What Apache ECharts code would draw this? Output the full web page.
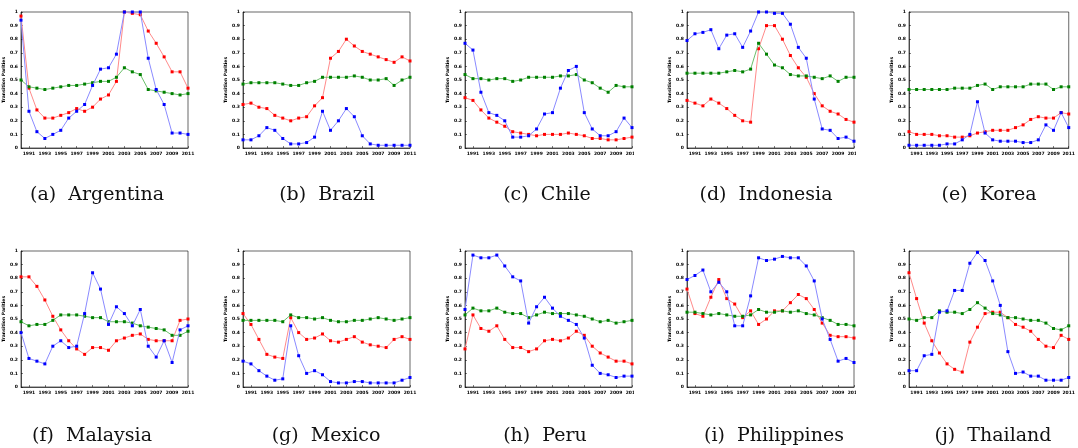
<!DOCTYPE html>
<html><head><meta charset="utf-8">
<script src="https://cdn.jsdelivr.net/npm/echarts@6/dist/echarts.min.js"></script>
<style>html,body{margin:0;padding:0;background:#fff}#c{width:1078px;height:448px}</style>
</head><body><div id="c"></div>
<script>
const years = ['1990','1991','1992','1993','1994','1995','1996','1997','1998','1999','2000','2001','2002','2003','2004','2005','2006','2007','2008','2009','2010','2011'];
const yAxisTitle = 'Transition Parities';
const captions = ['(a)  Argentina','(b)  Brazil','(c)  Chile','(d)  Indonesia','(e)  Korea','(f)  Malaysia','(g)  Mexico','(h)  Peru','(i)  Philippines','(j)  Thailand'];

const argentinaRed   = [0.97,0.44,0.28,0.22,0.22,0.24,0.26,0.29,0.27,0.30,0.36,0.39,0.49,1.00,0.99,0.98,0.86,0.77,0.67,0.56,0.56,0.44];
const argentinaGreen = [0.50,0.45,0.44,0.43,0.44,0.45,0.46,0.46,0.47,0.48,0.49,0.49,0.52,0.59,0.56,0.54,0.43,0.42,0.41,0.40,0.39,0.40];
const argentinaBlue  = [0.94,0.27,0.12,0.07,0.10,0.13,0.22,0.27,0.32,0.46,0.58,0.59,0.69,1.00,1.00,1.00,0.66,0.43,0.32,0.11,0.11,0.10];

const brazilRed   = [0.32,0.33,0.30,0.29,0.24,0.22,0.20,0.22,0.23,0.31,0.37,0.66,0.71,0.80,0.75,0.71,0.69,0.67,0.65,0.63,0.67,0.64];
const brazilGreen = [0.47,0.48,0.48,0.48,0.48,0.47,0.46,0.46,0.48,0.49,0.52,0.52,0.52,0.52,0.53,0.52,0.50,0.50,0.51,0.46,0.50,0.52];
const brazilBlue  = [0.06,0.06,0.09,0.15,0.13,0.07,0.03,0.03,0.04,0.08,0.27,0.13,0.20,0.29,0.23,0.09,0.03,0.02,0.02,0.02,0.02,0.02];

const chileRed   = [0.37,0.35,0.28,0.22,0.19,0.16,0.12,0.11,0.10,0.09,0.10,0.10,0.10,0.11,0.10,0.09,0.07,0.07,0.06,0.06,0.07,0.08];
const chileGreen = [0.54,0.51,0.51,0.50,0.51,0.51,0.49,0.50,0.52,0.52,0.52,0.52,0.53,0.53,0.54,0.50,0.48,0.44,0.41,0.46,0.45,0.45];
const chileBlue  = [0.77,0.72,0.41,0.26,0.24,0.20,0.08,0.08,0.09,0.14,0.25,0.26,0.44,0.57,0.60,0.26,0.14,0.09,0.09,0.12,0.22,0.15];

const indonesiaRed   = [0.35,0.33,0.31,0.36,0.33,0.29,0.24,0.20,0.19,0.73,0.90,0.90,0.80,0.68,0.59,0.52,0.40,0.31,0.27,0.25,0.21,0.19];
const indonesiaGreen = [0.55,0.55,0.55,0.55,0.55,0.56,0.57,0.56,0.58,0.77,0.69,0.61,0.59,0.54,0.53,0.53,0.52,0.51,0.53,0.49,0.52,0.52];
const indonesiaBlue  = [0.79,0.84,0.85,0.87,0.73,0.83,0.84,0.74,0.86,1.00,1.00,0.99,0.99,0.91,0.74,0.66,0.36,0.14,0.13,0.07,0.08,0.05];

const koreaRed   = [0.12,0.10,0.10,0.10,0.09,0.09,0.08,0.08,0.09,0.11,0.12,0.13,0.13,0.13,0.15,0.17,0.21,0.23,0.22,0.22,0.26,0.25];
const koreaGreen = [0.43,0.43,0.43,0.43,0.43,0.43,0.44,0.44,0.44,0.46,0.47,0.43,0.45,0.45,0.45,0.45,0.47,0.47,0.47,0.43,0.45,0.45];
const koreaBlue  = [0.02,0.02,0.02,0.02,0.02,0.03,0.03,0.06,0.10,0.34,0.11,0.06,0.05,0.05,0.05,0.04,0.04,0.06,0.17,0.13,0.26,0.15];

const malaysiaRed   = [0.81,0.81,0.74,0.64,0.52,0.42,0.34,0.28,0.24,0.29,0.29,0.27,0.34,0.36,0.38,0.39,0.35,0.34,0.34,0.34,0.49,0.50];
const malaysiaGreen = [0.48,0.45,0.46,0.46,0.49,0.53,0.53,0.53,0.52,0.51,0.51,0.48,0.48,0.48,0.47,0.45,0.44,0.43,0.42,0.38,0.38,0.41];
const malaysiaBlue  = [0.40,0.21,0.19,0.17,0.30,0.34,0.29,0.30,0.54,0.84,0.72,0.46,0.59,0.54,0.45,0.57,0.30,0.22,0.34,0.18,0.42,0.45];

const mexicoRed   = [0.54,0.46,0.35,0.24,0.22,0.21,0.51,0.40,0.35,0.36,0.39,0.34,0.33,0.35,0.37,0.33,0.31,0.30,0.29,0.35,0.37,0.35];
const mexicoGreen = [0.49,0.49,0.49,0.49,0.49,0.48,0.53,0.51,0.51,0.50,0.51,0.49,0.48,0.48,0.49,0.49,0.50,0.51,0.50,0.49,0.50,0.51];
const mexicoBlue  = [0.19,0.17,0.12,0.08,0.05,0.06,0.45,0.23,0.10,0.12,0.09,0.04,0.03,0.03,0.04,0.04,0.03,0.03,0.03,0.03,0.05,0.07];

const peruRed   = [0.28,0.53,0.43,0.41,0.45,0.35,0.29,0.29,0.26,0.28,0.34,0.35,0.34,0.36,0.41,0.38,0.30,0.25,0.22,0.19,0.19,0.17];
const peruGreen = [0.53,0.58,0.56,0.56,0.58,0.55,0.54,0.54,0.51,0.53,0.55,0.54,0.54,0.54,0.53,0.52,0.50,0.48,0.49,0.47,0.48,0.49];
const peruBlue  = [0.57,0.97,0.95,0.95,0.97,0.89,0.81,0.78,0.47,0.59,0.66,0.58,0.52,0.49,0.46,0.36,0.16,0.10,0.09,0.07,0.08,0.08];

const philippinesRed   = [0.72,0.54,0.52,0.66,0.79,0.65,0.61,0.51,0.56,0.46,0.50,0.56,0.56,0.62,0.68,0.65,0.57,0.47,0.38,0.37,0.37,0.36];
const philippinesGreen = [0.55,0.55,0.54,0.53,0.54,0.53,0.52,0.52,0.53,0.57,0.55,0.55,0.56,0.55,0.56,0.54,0.53,0.51,0.49,0.46,0.46,0.45];
const philippinesBlue  = [0.79,0.82,0.86,0.70,0.77,0.70,0.45,0.45,0.67,0.95,0.93,0.94,0.96,0.95,0.95,0.89,0.78,0.50,0.35,0.19,0.21,0.18];

const thailandRed   = [0.84,0.65,0.47,0.34,0.25,0.17,0.13,0.11,0.33,0.44,0.54,0.55,0.55,0.51,0.46,0.44,0.41,0.35,0.30,0.29,0.38,0.35];
const thailandGreen = [0.50,0.49,0.51,0.51,0.56,0.55,0.55,0.54,0.57,0.62,0.58,0.54,0.53,0.51,0.51,0.50,0.49,0.49,0.47,0.43,0.42,0.45];
const thailandBlue  = [0.12,0.12,0.23,0.24,0.55,0.56,0.71,0.71,0.91,0.99,0.93,0.78,0.60,0.26,0.10,0.11,0.08,0.08,0.05,0.05,0.05,0.07];

const panels = [
  [argentinaRed, argentinaGreen, argentinaBlue],
  [brazilRed, brazilGreen, brazilBlue],
  [chileRed, chileGreen, chileBlue],
  [indonesiaRed, indonesiaGreen, indonesiaBlue],
  [koreaRed, koreaGreen, koreaBlue],
  [malaysiaRed, malaysiaGreen, malaysiaBlue],
  [mexicoRed, mexicoGreen, mexicoBlue],
  [peruRed, peruGreen, peruBlue],
  [philippinesRed, philippinesGreen, philippinesBlue],
  [thailandRed, thailandGreen, thailandBlue]
];

// layout
const lefts = [21, 243, 465, 687, 909];
const tops = [12, 251];
const capX = [[97, 327, 547, 766, 989], [92, 326, 545, 774, 993]];
const capY = [195, 436];
const W = 167, H = 136;
const markerColors = ['#ff0000', '#008000', '#0000ff'];
const lineColors = ['#ff8a8a', '#6cc06c', '#8a8aff'];
const tickFont = 'DejaVu Sans';

const grid = [], xAxis = [], yAxis = [], series = [], graphic = [];
panels.forEach((p, i) => {
  const r = Math.floor(i / 5), c = i % 5;
  grid.push({left: lefts[c], top: tops[r], width: W, height: H, show: true, borderColor: '#000', borderWidth: 0.6, containLabel: false});
  xAxis.push({
    type: 'category', gridIndex: i, data: years, boundaryGap: false,
    axisLine: {show: true, lineStyle: {color: '#000', width: 0.6}},
    axisTick: {show: true, inside: true, length: 2, interval: (idx) => idx % 2 === 1, lineStyle: {color: '#000', width: 0.5}},
    axisLabel: {interval: (idx) => idx % 2 === 1, fontSize: 4.5, fontWeight: 'bold', fontFamily: tickFont, color: '#000', margin: 3},
    splitLine: {show: false}
  });
  yAxis.push({
    type: 'value', gridIndex: i, min: 0, max: 1, interval: 0.1,
    name: yAxisTitle, nameLocation: 'middle', nameGap: 11, nameRotate: 90,
    nameTextStyle: {fontSize: 4.5, fontWeight: 'bold', fontFamily: tickFont, color: '#000'},
    axisLine: {show: true, lineStyle: {color: '#000', width: 0.6}},
    axisTick: {show: true, inside: true, length: 2, lineStyle: {color: '#000', width: 0.5}},
    axisLabel: {fontSize: 4.5, fontWeight: 'bold', fontFamily: tickFont, color: '#000', margin: 3,
      formatter: (v) => String(+v.toFixed(1))},
    splitLine: {show: false}
  });
  p.forEach((data, k) => {
    series.push({
      type: 'line', xAxisIndex: i, yAxisIndex: i, data: data,
      symbol: 'rect', symbolSize: 3, showSymbol: true,
      lineStyle: {color: lineColors[k], width: 1},
      itemStyle: {color: markerColors[k]},
      z: 2 + k, silent: true
    });
  });
  graphic.push({type: 'text', x: capX[r][c], y: capY[r], style: {text: captions[i], font: '19px "DejaVu Serif"', fill: '#111', textAlign: 'center', textVerticalAlign: 'middle'}});
});
// crop masks to mimic clipped right edges of panels c, d, h, i
[[634, 150], [856, 150], [634, 389], [856, 389]].forEach(([x, y]) => {
  graphic.push({type: 'rect', shape: {x: x, y: y, width: 20, height: 9}, style: {fill: '#fff'}, z: 100});
});

const chart = echarts.init(document.getElementById('c'), null, {renderer: 'canvas'});
chart.setOption({animation: false, backgroundColor: '#fff', grid, xAxis, yAxis, series, graphic});
</script></body></html>
